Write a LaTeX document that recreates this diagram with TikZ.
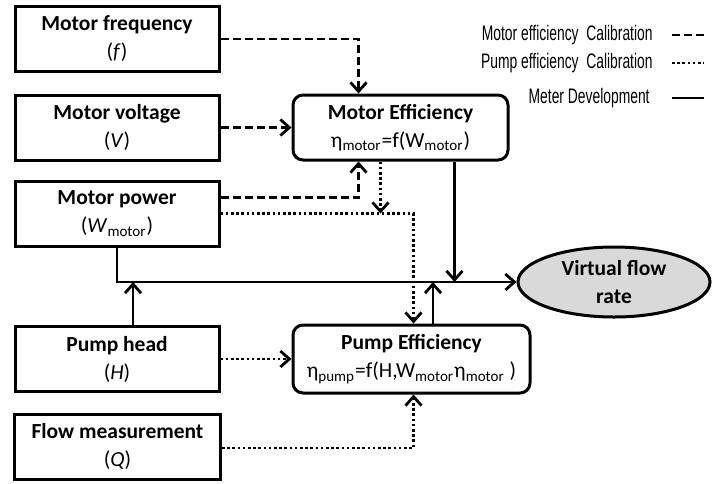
\documentclass[tikz,border=0pt]{standalone}
\usepackage{fontspec}
\setmainfont{Carlito}
\newfontfamily\legfont[FakeStretch=0.66]{Liberation Sans}
\usetikzlibrary{positioning,arrows.meta,calc,shapes.geometric}

\begin{document}
\begin{tikzpicture}[
    x=0.5pt, y=-0.5pt,
    inbox/.style={draw, line width=1.5pt, minimum width=102pt, minimum height=32.5pt, align=center, inner sep=0pt, font=\fontsize{10.75}{14}\selectfont},
    effbox/.style={inbox, rounded corners=5pt},
    result/.style={ellipse, draw, line width=1.5pt, fill=black!15, minimum width=96pt, minimum height=35pt, inner sep=0pt, align=center, font=\fontsize{10.75}{14}\selectfont\bfseries},
    arr/.style={-{Straight Barb[length=4.5pt,width=8pt]}, line width=1.4pt},
    dsh/.style={dash pattern=on 4pt off 2pt},
    dot/.style={dash pattern=on 1.3pt off 1.3pt},
    legtxt/.style={font=\legfont\fontsize{10.5}{11}\selectfont, anchor=east, inner sep=0pt}
]
\useasboundingbox (0,0) rectangle (716,483);

% inputs
\node[inbox] (freq) at (117,39) {\textbf{Motor frequency}\\(\textit{f})};
\node[inbox] (volt) at (117,127.5) {\textbf{Motor voltage}\\(\textit{V})};
\node[inbox] (power) at (117,213.5) {\textbf{Motor power}\\(\textit{W}\textsubscript{motor})};
\node[inbox] (head) at (117,359) {\textbf{Pump head}\\(\textit{H})};
\node[inbox, minimum width=103pt] (flow) at (117.5,446.5) {\textbf{Flow measurement}\\(\textit{Q})};

% models
\node[effbox, minimum width=107.5pt] (meff) at (400.5,127.5) {\textbf{Motor Efficiency}\\η\textsubscript{motor}=f(W\textsubscript{motor})};
\node[effbox, minimum width=118.5pt, minimum height=34pt] (peff) at (411.5,359) {\textbf{Pump Efficiency}\\η\textsubscript{pump}=f(H,W\textsubscript{motor}η\textsubscript{motor} )};
\node[result] (vflow) at (614,282) {Virtual flow\\rate};

% legend
\node[legtxt] (lg1) at (653,35) {Motor efficiency\ \ Calibration};
\node[legtxt] (lg2) at (653,63) {Pump efficiency\ \ Calibration};
\node[legtxt] (lg3) at (650,98) {Meter Development};
\draw[dsh, line width=1.4pt] ([xshift=9.5pt]lg1.east) -- ++(32,0);
\draw[dot, line width=1.4pt] ([xshift=9.5pt]lg2.east) -- ++(32,0);
\draw[line width=1.4pt] ([xshift=11pt]lg3.east) -- ++(32,0);

% motor efficiency calibration
\draw[arr, dsh] (freq.east) -| ([xshift=-21pt]meff.north);
\draw[arr, dsh] (volt.east) -- (meff.west);
\draw[arr, dsh] ([yshift=8pt]power.east) -| ([xshift=-21pt]meff.south);

% pump efficiency calibration
\draw[arr, dot] (power.east) -| ([xshift=1pt]peff.north);
\draw[arr, dot] ([xshift=-10pt]meff.south) -- ([xshift=-10pt]meff.south |- power.east);
\draw[arr, dot] (head.east) -- (peff.west);
\draw[arr, dot] ([yshift=-0.75pt]flow.east) -| ([xshift=1pt]peff.south);

% meter development
\draw[arr] (power.south) |- (vflow.west);
\draw[arr] ([xshift=8pt]head.north) -- ([xshift=8pt]head.north |- vflow.west);
\draw[arr] ([xshift=27pt]meff.south) -- ([xshift=27pt]meff.south |- vflow.west);
\draw[arr] ([xshift=10.75pt]peff.north) -- ([xshift=10.75pt]peff.north |- vflow.west);
\end{tikzpicture}
\end{document}
